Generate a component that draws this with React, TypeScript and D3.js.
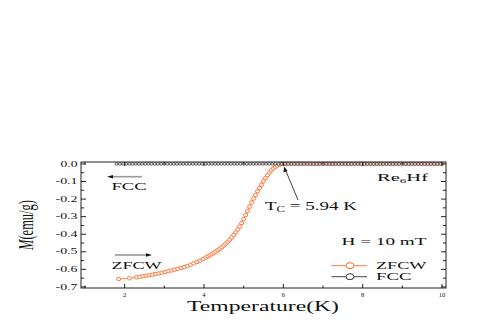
import React from 'react';
import * as d3 from 'd3';

// ZFCW branch (zero-field-cooled warming), temperature in K and M in emu/g
const zfcwTemp = [
  1.85, 2.12,
  2.30, 2.38, 2.46, 2.54, 2.62, 2.70, 2.78, 2.86, 2.94, 3.02, 3.10,
  3.18, 3.26, 3.34, 3.42, 3.50, 3.58, 3.66, 3.74, 3.82, 3.90, 3.98,
  4.05, 4.10, 4.15, 4.20, 4.25, 4.30, 4.35, 4.40, 4.45, 4.50,
  4.55, 4.60, 4.65, 4.70, 4.75, 4.80, 4.85, 4.90, 4.95, 5.00,
  5.05, 5.10, 5.15, 5.20, 5.25, 5.30, 5.35, 5.40, 5.45, 5.50,
  5.55, 5.60, 5.65, 5.70, 5.75, 5.80, 5.85, 5.90, 5.95,
  6.0, 6.1, 6.2, 6.3, 6.4, 6.5, 6.6, 6.7, 6.8, 6.9,
  7.0, 7.1, 7.2, 7.3, 7.4, 7.5, 7.6, 7.7, 7.8, 7.9,
  8.0, 8.1, 8.2, 8.3, 8.4, 8.5, 8.6, 8.7, 8.8, 8.9,
  9.0, 9.1, 9.2, 9.3, 9.4, 9.5, 9.6, 9.7, 9.8, 9.9, 10.0,
];
const zfcwM = [
  -0.655, -0.651,
  -0.645, -0.642, -0.639, -0.636, -0.633, -0.630, -0.626, -0.623, -0.619, -0.615, -0.611,
  -0.606, -0.602, -0.597, -0.592, -0.587, -0.581, -0.574, -0.566, -0.558, -0.550, -0.540,
  -0.532, -0.526, -0.520, -0.513, -0.506, -0.499, -0.491, -0.483, -0.474, -0.464,
  -0.454, -0.443, -0.431, -0.418, -0.404, -0.389, -0.373, -0.356, -0.336, -0.314,
  -0.291, -0.267, -0.243, -0.219, -0.197, -0.176, -0.156, -0.137, -0.118, -0.099,
  -0.081, -0.064, -0.049, -0.036, -0.025, -0.016, -0.009, -0.004, -0.001,
  0, 0, 0, 0, 0, 0, 0, 0, 0, 0,
  0, 0, 0, 0, 0, 0, 0, 0, 0, 0,
  0, 0, 0, 0, 0, 0, 0, 0, 0, 0,
  0, 0, 0, 0, 0, 0, 0, 0, 0, 0, 0,
];

// FCC branch (field-cooled cooling)
const fccTemp = [
  1.80, 1.88, 1.96, 2.04, 2.12, 2.20, 2.28, 2.36, 2.44, 2.52,
  2.60, 2.68, 2.76, 2.84, 2.92, 3.00, 3.08, 3.16, 3.24, 3.32,
  3.40, 3.48, 3.56, 3.64, 3.72, 3.80, 3.88, 3.96, 4.04, 4.12,
  4.20, 4.28, 4.36, 4.44, 4.52, 4.60, 4.68, 4.76, 4.84, 4.92,
  5.00, 5.08, 5.16, 5.24, 5.32, 5.40, 5.48, 5.56, 5.64, 5.72,
  5.80, 5.88, 5.96, 6.04, 6.12, 6.20, 6.28, 6.36, 6.44, 6.52,
  6.60, 6.68, 6.76, 6.84, 6.92, 7.00, 7.08, 7.16, 7.24, 7.32,
  7.40, 7.48, 7.56, 7.64, 7.72, 7.80, 7.88, 7.96, 8.04, 8.12,
  8.20, 8.28, 8.36, 8.44, 8.52, 8.60, 8.68, 8.76, 8.84, 8.92,
  9.00, 9.08, 9.16, 9.24, 9.32, 9.40, 9.48, 9.56, 9.64, 9.72,
  9.80, 9.88, 9.96,
];
const fccM = [
  0, 0, 0, 0, 0, 0, 0, 0, 0, 0,
  0, 0, 0, 0, 0, 0, 0, 0, 0, 0,
  0, 0, 0, 0, 0, 0, 0, 0, 0, 0,
  0, 0, 0, 0, 0, 0, 0, 0, 0, 0,
  0, 0, 0, 0, 0, 0, 0, 0, 0, 0,
  0, 0, 0, 0, 0, 0, 0, 0, 0, 0,
  0, 0, 0, 0, 0, 0, 0, 0, 0, 0,
  0, 0, 0, 0, 0, 0, 0, 0, 0, 0,
  0, 0, 0, 0, 0, 0, 0, 0, 0, 0,
  0, 0, 0, 0, 0, 0, 0, 0, 0, 0,
  0, 0, 0,
];

const xMajor = [2, 4, 6, 8, 10];
const xMinor = [1, 3, 5, 7, 9];
const yMajor = [0, -0.1, -0.2, -0.3, -0.4, -0.5, -0.6, -0.7];
const yMajorLabels = ['0.0', '-0.1', '-0.2', '-0.3', '-0.4', '-0.5', '-0.6', '-0.7'];
const yMinor = [-0.05, -0.15, -0.25, -0.35, -0.45, -0.55, -0.65];

const ORANGE = '#ff6a28';
const DARK = '#333333';
const FONT = '"Liberation Serif", "Times New Roman", serif';

type Pt = { t: number; m: number };

export default function App() {
  const width = 491;
  const height = 327;
  const left = 81, right = 446, top = 162, bottom = 288;

  const x = d3.scaleLinear().domain([0.9, 10.1]).range([left, right]);
  const y = d3.scaleLinear().domain([-0.706, 0.011]).range([bottom, top]);

  const zfcw: Pt[] = zfcwTemp.map((t, i) => ({ t, m: zfcwM[i] }));
  const fcc: Pt[] = fccTemp.map((t, i) => ({ t, m: fccM[i] }));

  const line = d3.line<Pt>().x(d => x(d.t)).y(d => y(d.m));

  const axisColor = '#222';

  return (
    <svg width={width} height={height} style={{ position: 'absolute', left: 0, top: 0 }}
      fontFamily={FONT}>
      <rect width={width} height={height} fill="#fff" />

      {/* ZFCW */}
      <path d={line(zfcw) || ''} fill="none" stroke={ORANGE} strokeWidth={0.8} />
      {zfcw.map((d, i) => (
        <ellipse key={'z' + i} cx={x(d.t)} cy={y(d.m)} rx={2.1} ry={1.7}
          fill="#fff" stroke={ORANGE} strokeWidth={0.9} />
      ))}

      {/* FCC */}
      <path d={line(fcc) || ''} fill="none" stroke={DARK} strokeWidth={0.8} />
      {fcc.map((d, i) => (
        <ellipse key={'f' + i} cx={x(d.t)} cy={y(d.m)} rx={1.7} ry={1.2}
          fill="#fff" stroke={DARK} strokeWidth={0.8} />
      ))}

      {/* frame */}
      <rect x={left} y={top} width={right - left} height={bottom - top}
        fill="none" stroke={axisColor} strokeWidth={1} />

      {/* x ticks */}
      {xMajor.map(v => (
        <g key={'xm' + v}>
          <line x1={x(v)} x2={x(v)} y1={bottom} y2={bottom - 4} stroke={axisColor} />
          <line x1={x(v)} x2={x(v)} y1={top} y2={top + 4} stroke={axisColor} />
          <text x={x(v)} y={296.5} fontSize={6.5} textAnchor="middle" fill="#111">{v}</text>
        </g>
      ))}
      {xMinor.map(v => (
        <g key={'xn' + v}>
          <line x1={x(v)} x2={x(v)} y1={bottom} y2={bottom - 2.5} stroke={axisColor} />
          <line x1={x(v)} x2={x(v)} y1={top} y2={top + 2.5} stroke={axisColor} />
        </g>
      ))}

      {/* y ticks */}
      {yMajor.map((v, i) => {
        const lbl = yMajorLabels[i];
        const w = lbl.startsWith('-') ? 22 : 17;
        return (
          <g key={'ym' + i}>
            <line x1={left} x2={left + 5} y1={y(v)} y2={y(v)} stroke={axisColor} />
            <line x1={right} x2={right - 5} y1={y(v)} y2={y(v)} stroke={axisColor} />
            <text x={77.5 - w} y={y(v) + 2.6} fontSize={7.5} textLength={w}
              lengthAdjust="spacingAndGlyphs" fill="#111">{lbl}</text>
          </g>
        );
      })}
      {yMinor.map((v, i) => (
        <g key={'yn' + i}>
          <line x1={left} x2={left + 3} y1={y(v)} y2={y(v)} stroke={axisColor} />
          <line x1={right} x2={right - 3} y1={y(v)} y2={y(v)} stroke={axisColor} />
        </g>
      ))}

      {/* axis titles */}
      <text x={187} y={310.5} fontSize={14.5} textLength={152} lengthAdjust="spacingAndGlyphs"
        fill="#111">Temperature(K)</text>
      <text transform="translate(33,225) scale(1.8,1) rotate(-90)" fontSize={12}
        textAnchor="middle" textLength={50} lengthAdjust="spacingAndGlyphs" fill="#111">
        <tspan fontStyle="italic">M</tspan>(emu/g)
      </text>

      {/* FCC arrow + label */}
      <line x1={142} x2={112} y1={176.7} y2={176.7} stroke="#9a9a9a" strokeWidth={1.6} />
      <path d="M107,176.7 L113,174.9 L113,178.5 Z" fill="#111" />
      <text x={111.5} y={189.5} fontSize={10.5} textLength={35} lengthAdjust="spacingAndGlyphs"
        fill="#111">FCC</text>

      {/* ZFCW arrow + label */}
      <line x1={115} x2={147} y1={255} y2={255} stroke="#9a9a9a" strokeWidth={1.6} />
      <path d="M152,255 L146,253.2 L146,256.8 Z" fill="#111" />
      <text x={111.5} y={269} fontSize={10.5} textLength={50} lengthAdjust="spacingAndGlyphs"
        fill="#111">ZFCW</text>

      {/* Tc annotation */}
      <line x1={298} y1={200} x2={285.5} y2={170} stroke="#111" strokeWidth={0.8} />
      <path d="M284,166.5 L283.6,172.4 L287.4,170.8 Z" fill="#111" />
      <text x={265} y={210} fontSize={12} textLength={92} lengthAdjust="spacingAndGlyphs"
        fill="#111">T<tspan fontSize={8} dy={2}>C</tspan><tspan dy={-2}> = 5.94 K</tspan></text>

      {/* sample name */}
      <text x={377} y={181} fontSize={11} textLength={51} lengthAdjust="spacingAndGlyphs"
        fill="#111">Re<tspan fontSize={7} dy={2}>6</tspan><tspan dy={-2}>Hf</tspan></text>

      <text x={341.5} y={245} fontSize={11} textLength={85} lengthAdjust="spacingAndGlyphs"
        fill="#111">H = 10 mT</text>

      {/* legend */}
      <line x1={331.5} x2={367} y1={265.7} y2={265.7} stroke={ORANGE} strokeWidth={0.9} />
      <ellipse cx={350} cy={265.7} rx={4} ry={3} fill="#fff" stroke={ORANGE} strokeWidth={1} />
      <text x={376} y={269.3} fontSize={10.5} textLength={50.5} lengthAdjust="spacingAndGlyphs"
        fill="#111">ZFCW</text>
      <line x1={331.5} x2={367} y1={276.7} y2={276.7} stroke={DARK} strokeWidth={0.9} />
      <ellipse cx={350} cy={276.7} rx={4} ry={3} fill="#fff" stroke={DARK} strokeWidth={1} />
      <text x={376} y={280} fontSize={10.5} textLength={35.5} lengthAdjust="spacingAndGlyphs"
        fill="#111">FCC</text>
    </svg>
  );
}
